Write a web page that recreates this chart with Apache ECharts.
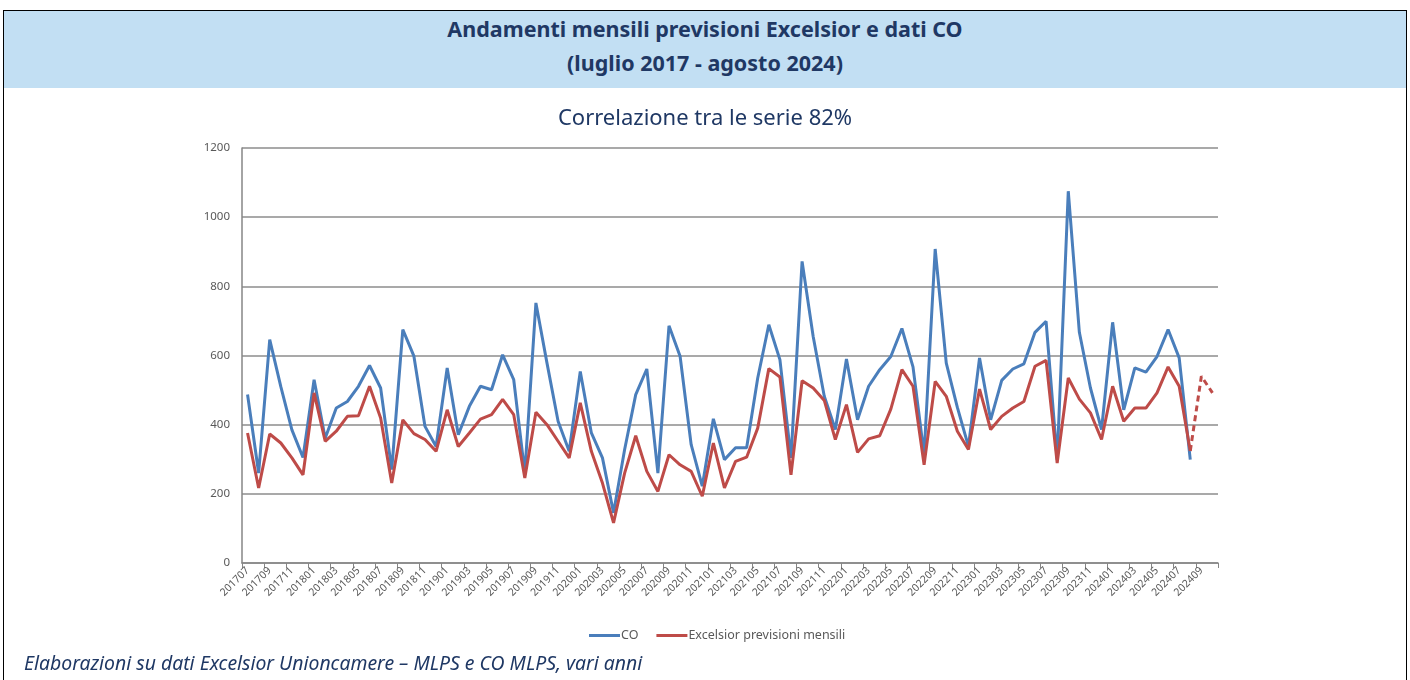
<!DOCTYPE html>
<html>
<head>
<meta charset="utf-8">
<script src="https://cdn.jsdelivr.net/npm/echarts@6/dist/echarts.min.js"></script>
<style>
  body { margin: 0; background: #fff; font-family: "Noto Sans", sans-serif; }
  #frame { position: absolute; left: 3px; top: 10px; width: 1402px; height: 700px; border: 1px solid #000; }
  #header { position: absolute; left: 4px; top: 11px; width: 1402px; height: 77px; background: #c2dff3;
    text-align: center; color: #1f3864; font-weight: bold; font-size: 21.5px; line-height: 34px; padding-top: 1px; box-sizing: border-box; }
  #chart { position: absolute; left: 0; top: 0; width: 1410px; height: 680px; }
  #note { position: absolute; left: 24px; top: 649px; font-style: italic; color: #1f3864; font-size: 19.4px; }
</style>
</head>
<body>
<div id="frame"></div>
<div id="header">Andamenti mensili previsioni Excelsior e dati CO<br>(luglio 2017 - agosto 2024)</div>
<div id="chart"></div>
<div id="note">Elaborazioni su dati Excelsior Unioncamere – MLPS e CO MLPS, vari anni</div>
<script>
  // mesi 201707 - 202410
  var mesi = [];
  for (var y = 2017; y <= 2024; y++) {
    for (var m = 1; m <= 12; m++) {
      if ((y === 2017 && m < 7) || (y === 2024 && m > 10)) continue;
      mesi.push(String(y) + (m < 10 ? '0' + m : m));
    }
  }

  var co = [
    487, 260, 646, 510, 385, 305, 530, 361, 448, 467, 511, 571,
    506, 270, 675, 598, 395, 337, 564, 371, 453, 511, 501, 602,
    530, 260, 752, 578, 410, 323, 554, 376, 304, 145, 328, 487,
    561, 260, 686, 598, 342, 222, 417, 299, 333, 333, 535, 689,
    588, 304, 872, 655, 482, 386, 590, 414, 511, 559, 597, 678,
    567, 313, 908, 578, 450, 337, 593, 414, 528, 561, 576, 667,
    699, 299, 1075, 667, 506, 386, 696, 443, 564, 552, 597, 675,
    593, 299
  ];

  var excelsior = [
    376, 217, 373, 347, 304, 255, 492, 352, 381, 424, 426, 511,
    419, 231, 414, 374, 357, 323, 443, 337, 376, 416, 429, 473,
    429, 246, 436, 400, 352, 304, 463, 323, 231, 116, 260, 368,
    265, 207, 313, 284, 265, 193, 347, 217, 294, 306, 390, 562,
    538, 255, 527, 506, 470, 357, 458, 320, 359, 368, 445, 559,
    511, 284, 525, 482, 381, 328, 503, 386, 424, 448, 467, 569,
    586, 289, 535, 474, 434, 357, 511, 410, 448, 448, 492, 567,
    511, 324
  ];

  // previsioni (tratteggio) 202408 - 202410
  var excelsiorPrev = [324, 540, 492];

  var prevData = [];
  for (var i = 0; i < mesi.length; i++) prevData.push(null);
  for (var j = 0; j < excelsiorPrev.length; j++) prevData[excelsior.length - 1 + j] = excelsiorPrev[j];

  var chart = echarts.init(document.getElementById('chart'));
  chart.setOption({
    animation: false,
    color: ['#4a7ebb', '#be4b48'],
    title: {
      text: 'Correlazione tra le serie 82%',
      left: 'center',
      top: 103,
      textStyle: { fontFamily: 'Noto Sans', fontSize: 22, fontWeight: 'normal', color: '#1f3864' }
    },
    grid: { left: 242, right: 192, top: 148, bottom: 117 },
    legend: {
      data: ['CO', 'Excelsior previsioni mensili'],
      top: 624,
      left: 584,
      icon: 'rect',
      itemWidth: 31,
      itemHeight: 3,
      itemGap: 18,
      textStyle: { fontFamily: 'Noto Sans', fontSize: 12.5, color: '#595959', padding: [0, 0, 0, -4] }
    },
    xAxis: {
      type: 'category',
      data: mesi,
      boundaryGap: true,
      axisLine: { lineStyle: { color: '#868686', width: 1.5 } },
      axisTick: { show: true, length: 5, lineStyle: { color: '#868686' } },
      axisLabel: { interval: 1, rotate: 45, fontSize: 10.5, color: '#595959', fontFamily: 'Noto Sans', margin: 6 }
    },
    yAxis: {
      type: 'value',
      min: 0,
      max: 1200,
      interval: 200,
      axisLine: { show: true, lineStyle: { color: '#868686', width: 1.5 } },
      axisTick: { show: false },
      axisLabel: { fontSize: 11.5, color: '#595959', fontFamily: 'Noto Sans', margin: 12, formatter: function (v) { return String(v); } },
      splitLine: { lineStyle: { color: '#8c8c8c', width: 1.5 } }
    },
    series: [
      {
        name: 'CO',
        type: 'line',
        data: co,
        symbol: 'none',
        lineStyle: { width: 3 }
      },
      {
        name: 'Excelsior previsioni mensili',
        type: 'line',
        data: excelsior,
        symbol: 'none',
        lineStyle: { width: 3 }
      },
      {
        name: 'prev',
        type: 'line',
        data: prevData,
        symbol: 'none',
        itemStyle: { color: '#be4b48' },
        lineStyle: { width: 3, type: [6, 4], color: '#be4b48' }
      }
    ]
  });
</script>
</body>
</html>
